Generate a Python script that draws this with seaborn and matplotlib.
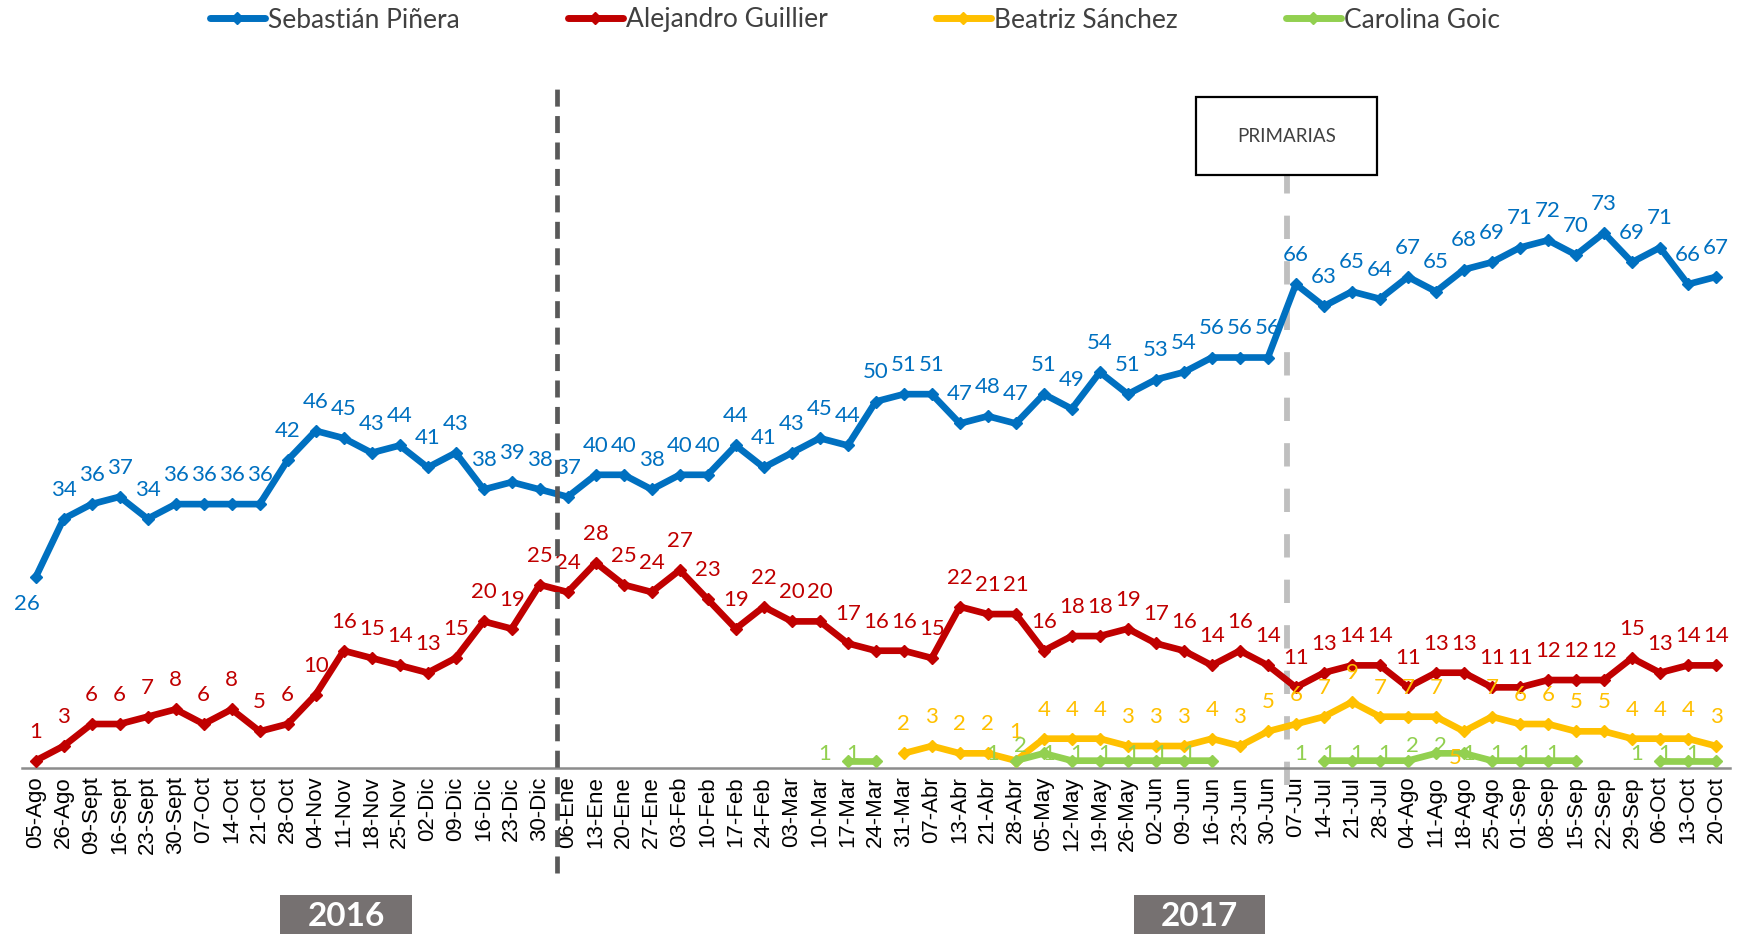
import numpy as np
import pandas as pd
import matplotlib
matplotlib.use("Agg")
import matplotlib.pyplot as plt
import seaborn as sns
from matplotlib.patches import Rectangle
from matplotlib.lines import Line2D

# ---------------- data ----------------
fechas = ["05-Ago", "26-Ago", "09-Sept", "16-Sept", "23-Sept", "30-Sept", "07-Oct", "14-Oct",
          "21-Oct", "28-Oct", "04-Nov", "11-Nov", "18-Nov", "25-Nov", "02-Dic", "09-Dic",
          "16-Dic", "23-Dic", "30-Dic", "06-Ene", "13-Ene", "20-Ene", "27-Ene", "03-Feb",
          "10-Feb", "17-Feb", "24-Feb", "03-Mar", "10-Mar", "17-Mar", "24-Mar", "31-Mar",
          "07-Abr", "13-Abr", "21-Abr", "28-Abr", "05-May", "12-May", "19-May", "26-May",
          "02-Jun", "09-Jun", "16-Jun", "23-Jun", "30-Jun", "07-Jul", "14-Jul", "21-Jul",
          "28-Jul", "04-Ago", "11-Ago", "18-Ago", "25-Ago", "01-Sep", "08-Sep", "15-Sep",
          "22-Sep", "29-Sep", "06-Oct", "13-Oct", "20-Oct"]

pinera = [26, 34, 36, 37, 34, 36, 36, 36, 36, 42, 46, 45, 43, 44, 41, 43, 38, 39, 38, 37,
          40, 40, 38, 40, 40, 44, 41, 43, 45, 44, 50, 51, 51, 47, 48, 47, 51, 49, 54, 51,
          53, 54, 56, 56, 56, 66, 63, 65, 64, 67, 65, 68, 69, 71, 72, 70, 73, 69, 71, 66, 67]

guillier = [1, 3, 6, 6, 7, 8, 6, 8, 5, 6, 10, 16, 15, 14, 13, 15, 20, 19, 25, 24,
            28, 25, 24, 27, 23, 19, 22, 20, 20, 17, 16, 16, 15, 22, 21, 21, 16, 18, 18, 19,
            17, 16, 14, 16, 14, 11, 13, 14, 14, 11, 13, 13, 11, 11, 12, 12, 12, 15, 13, 14, 14]

N = np.nan
sanchez = [N] * 31 + [2, 3, 2, 2, 1, 4, 4, 4, 3, 3, 3, 4, 3, 5, 6,
                      7, 9, 7, 7, 7, 5, 7, 6, 6, 5, 5, 4, 4, 4, 3]

goic = ([N] * 29 + [1, 1] + [N] * 4 + [1, 2, 1, 1, 1, 1, 1, 1] + [N] * 3 +
        [1, 1, 1, 1, 2, 2, 1, 1, 1, 1] + [N] * 2 + [1, 1, 1])

candidatos = ["Sebastián Piñera", "Alejandro Guillier", "Beatriz Sánchez", "Carolina Goic"]
series = [pinera, guillier, sanchez, goic]
colores = ["#0070C0", "#C00000", "#FFC000", "#92D050"]
anios = ["2016", "2017"]

# ---------------- style ----------------
sns.set_theme(style="white")
plt.rcParams["font.family"] = ["Lato", "DejaVu Sans"]

W, H = 1744, 934
fig = plt.figure(figsize=(W / 100, H / 100), dpi=100)
ax_left, ax_right = 21.6 / W, 1730 / W
ax_bot_px, ax_top_px = 768, 64
ax = fig.add_axes([ax_left, 1 - ax_bot_px / H, ax_right - ax_left, (ax_bot_px - ax_top_px) / H])

n = len(fechas)
for name, vals, col in zip(candidatos, series, colores):
    v = pd.Series(vals, dtype=float)
    seg = v.isna().cumsum()
    df = pd.DataFrame({"i": np.arange(n), "v": v, "seg": seg}).dropna()
    sns.lineplot(data=df, x="i", y="v", units="seg", estimator=None, sort=False,
                 color=col, lw=4.8, marker="D", markersize=6.5, markeredgecolor=col,
                 markeredgewidth=1, ax=ax, legend=False, zorder=3)

# data labels
below = {(0, 0), (2, 51)}
for s, (vals, col) in enumerate(zip(series, colores)):
    for i, val in enumerate(vals):
        if val is None or (isinstance(val, float) and np.isnan(val)):
            continue
        if s == 3:
            dx, dy = -17, 5
        elif (s, i) in below:
            dx, dy = -6, -19
        else:
            dx, dy = 0, 21
        ax.annotate(f"{int(val)}", (i, val), xytext=(dx, dy), textcoords="offset points",
                    ha="center", va="center", color=col, fontsize=16, zorder=4,
                    annotation_clip=False)

ax.set_xlim(-0.5, n - 0.5)
ax.set_ylim(0, (ax_bot_px - ax_top_px) / 7.33)
ax.set_yticks([])
ax.set_xlabel("")
ax.set_ylabel("")
ax.set_xticks(range(n))
ax.set_xticklabels(fechas, rotation=90, fontsize=16, family=["Liberation Sans"], color="black")
ax.set_xticks(np.arange(-0.5, n, 1), minor=True)
ax.tick_params(axis="x", which="major", length=0, pad=6)
ax.tick_params(axis="x", which="minor", length=7, width=1.6, color="#8C8C8C", direction="out")
for sp in ["top", "left", "right"]:
    ax.spines[sp].set_visible(False)
ax.spines["bottom"].set_color("#8C8C8C")
ax.spines["bottom"].set_linewidth(1.8)
ax.set_facecolor("white")

# vertical separators
ax_h = ax_bot_px - ax_top_px
trans = ax.get_xaxis_transform()
ax.plot([18.6, 18.6], [(ax_bot_px - 873) / ax_h, (ax_bot_px - 89) / ax_h], transform=trans,
        color="#595959", lw=3.4, dashes=(3.6, 2.0), clip_on=False, zorder=5)
ax.plot([44.7, 44.7], [(ax_bot_px - 785) / ax_h, (ax_bot_px - 175) / ax_h], transform=trans,
        color="#BFBFBF", lw=4.2, dashes=(4.0, 3.8), clip_on=False, zorder=2)

# PRIMARIAS box
bx0, by0, bx1, by1 = 1196, 97, 1377, 175
fig.patches.append(Rectangle((bx0 / W, 1 - by1 / H), (bx1 - bx0) / W, (by1 - by0) / H,
                             transform=fig.transFigure, facecolor="white",
                             edgecolor="black", lw=1.6, zorder=6))
fig.text((bx0 + bx1) / 2 / W, 1 - (by0 + by1) / 2 / H, "PRIMARIAS", ha="center", va="center",
         fontsize=13.5, color="#404040", zorder=7)

# year boxes
for lab, (x0, x1) in zip(anios, [(280, 412), (1134, 1265)]):
    fig.patches.append(Rectangle((x0 / W, 0), (x1 - x0) / W, (H - 895) / H,
                                 transform=fig.transFigure, facecolor="#767171",
                                 edgecolor="none", zorder=6))
    fig.text((x0 + x1) / 2 / W, 1 - 917 / H, lab, ha="center", va="center", fontsize=24,
             fontweight="bold", color="white", zorder=7)

# legend
handles = [Line2D([0], [0], color=c, lw=5, marker="D", markersize=6, markeredgecolor=c)
           for c in colores]
leg = fig.legend(handles, candidatos, loc="center", bbox_to_anchor=(0.49, 1 - 20 / H),
                 ncol=4, frameon=False, fontsize=19, handlelength=2.1, handletextpad=0.1,
                 columnspacing=4.1)
for t in leg.get_texts():
    t.set_color("#404040")

fig.savefig("out.png", dpi=100, facecolor="white")
